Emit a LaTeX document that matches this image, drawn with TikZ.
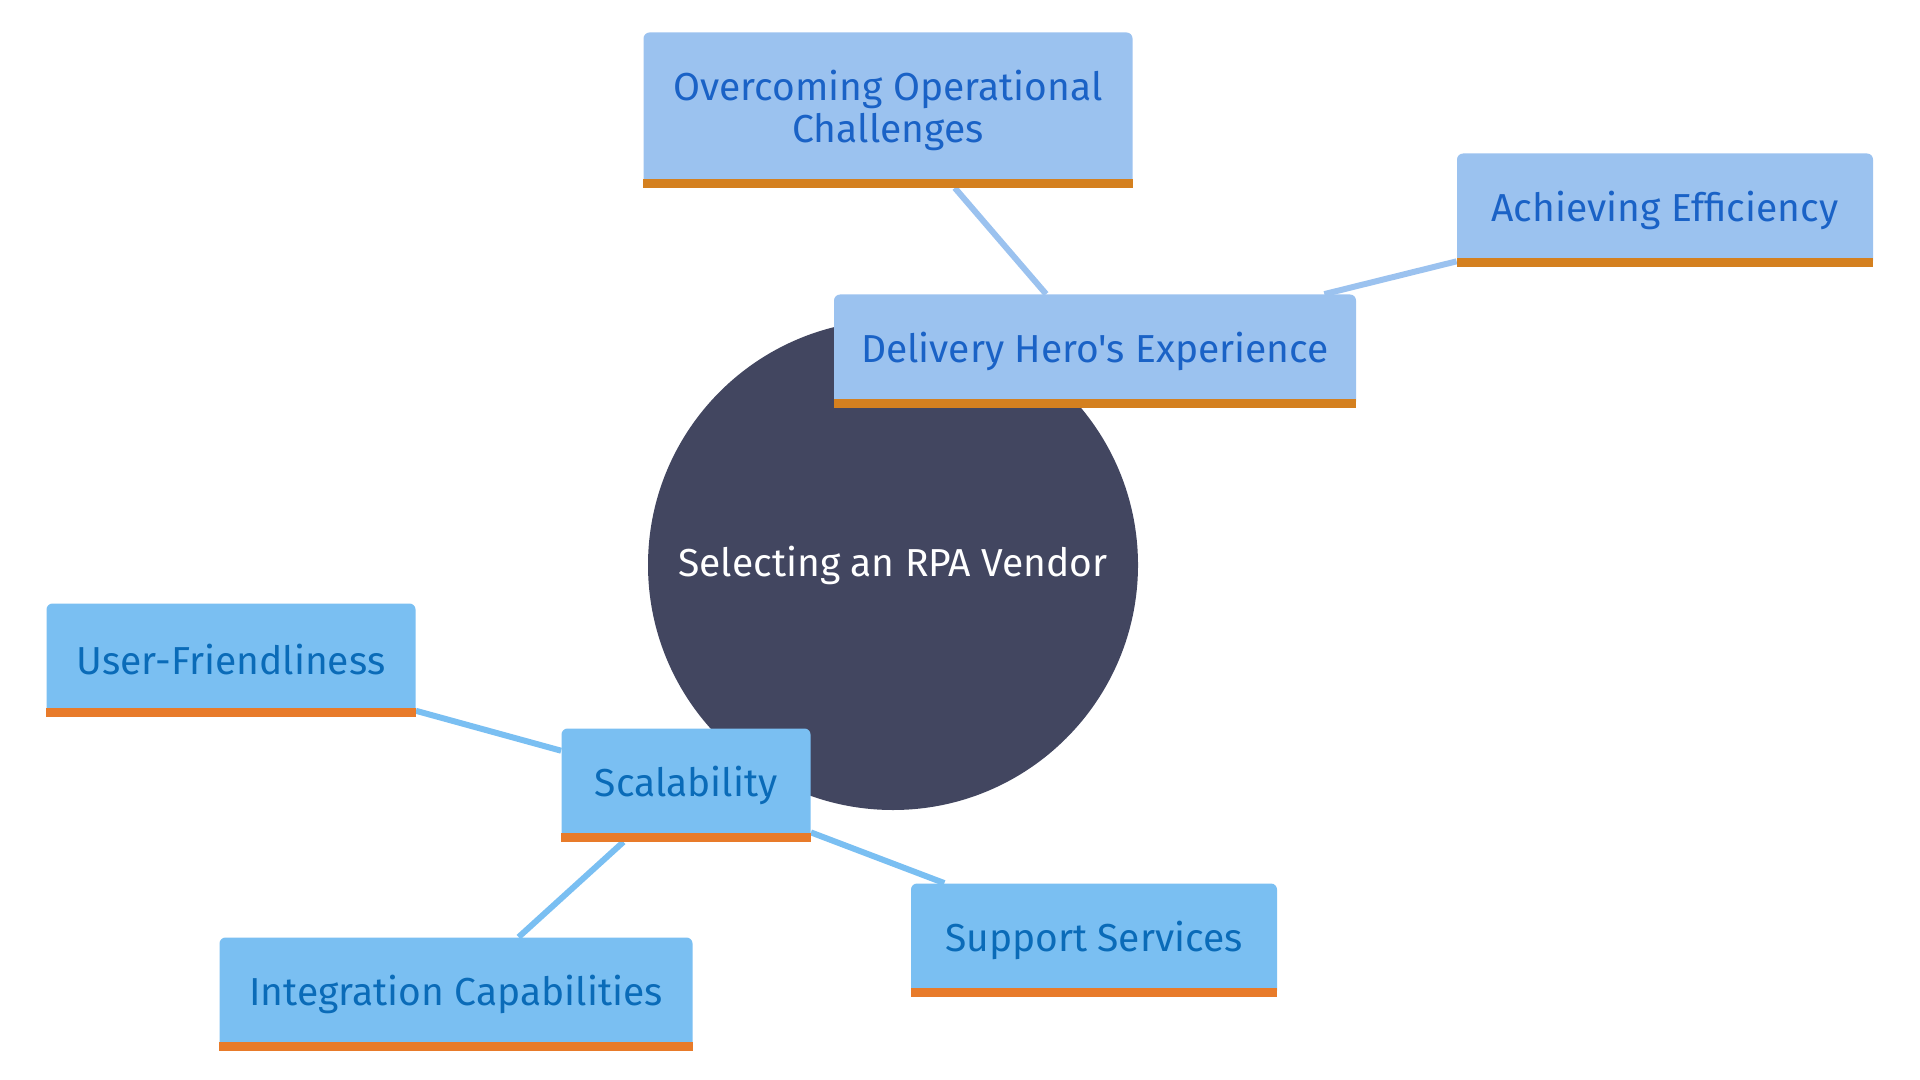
\documentclass[tikz,border=0pt]{standalone}
\usepackage{fontspec}
\newfontfamily\rpafont{Fira Sans}
\usepackage{tikz}
\usetikzlibrary{backgrounds}
\definecolor{rpadark}{HTML}{424660}
\definecolor{dhfill}{HTML}{9BC2EF}
\definecolor{dhtext}{HTML}{1A62C6}
\definecolor{dhbar}{HTML}{D4801F}
\definecolor{scfill}{HTML}{7ABFF2}
\definecolor{sctext}{HTML}{0A6BB8}
\definecolor{scbar}{HTML}{E87B2A}

\begin{document}
\begin{tikzpicture}[x=0.5pt,y=-0.5pt,
  root/.style={circle,fill=rpadark,text=white,minimum size=245pt,inner sep=0pt,
    font=\rpafont\fontsize{19.5}{21}\selectfont},
  topic/.style={rounded corners=3pt,inner sep=0pt,minimum height=56.5pt,align=center,
    font=\rpafont\fontsize{19.5}{21}\selectfont},
  dhbox/.style={topic,fill=dhfill,text=dhtext},
  scbox/.style={topic,fill=scfill,text=sctext},
  dhline/.style={dhfill,line width=3pt},
  scline/.style={scfill,line width=3pt}]
\useasboundingbox (0,0) rectangle (1920,1080);
\node[root] (rpa) at (893,565) {Selecting an RPA Vendor};
% delivery hero branch
\node[dhbox,minimum width=261pt] (dh) at (1095,351) {Delivery Hero's Experience};
\node[dhbox,minimum width=244.5pt,minimum height=77.5pt] (oc) at (888,110) {Overcoming Operational\\Challenges};
\node[dhbox,minimum width=208pt] (ae) at (1665,210) {Achieving Efficiency};
% scalability branch
\node[scbox,minimum width=124.5pt] (sc) at (686,785) {Scalability};
\node[scbox,minimum width=184.5pt] (uf) at (231,660) {User-Friendliness};
\node[scbox,minimum width=236.5pt] (ic) at (456,994) {Integration Capabilities};
\node[scbox,minimum width=183pt] (ss) at (1094,940) {Support Services};
\fill[dhbar] ([yshift=4.5pt]dh.south west) rectangle (dh.south east);
\fill[dhbar] ([yshift=4.5pt]oc.south west) rectangle (oc.south east);
\fill[dhbar] ([yshift=4.5pt]ae.south west) rectangle (ae.south east);
\fill[scbar] ([yshift=4.5pt]sc.south west) rectangle (sc.south east);
\fill[scbar] ([yshift=4.5pt]uf.south west) rectangle (uf.south east);
\fill[scbar] ([yshift=4.5pt]ic.south west) rectangle (ic.south east);
\fill[scbar] ([yshift=4.5pt]ss.south west) rectangle (ss.south east);
\begin{pgfonlayer}{background}
\draw[dhline] (dh) -- (oc);
\draw[dhline] (dh) -- (ae);
\draw[scline] (sc) -- (uf);
\draw[scline] (sc) -- (ic);
\draw[scline] (sc) -- (ss);
\end{pgfonlayer}
\end{tikzpicture}
\end{document}
